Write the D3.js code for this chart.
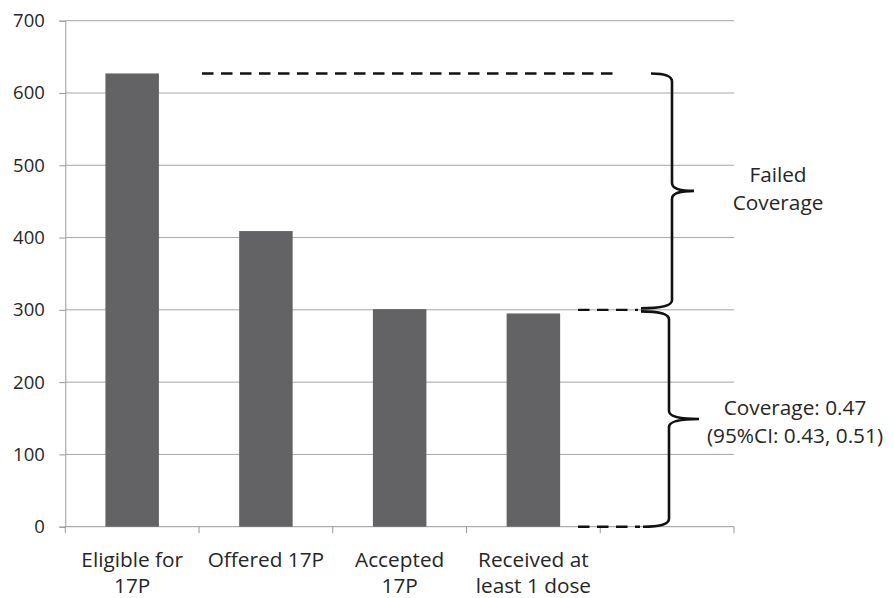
<!DOCTYPE html>
<html>
<head>
<meta charset="utf-8">
<script src="https://cdn.jsdelivr.net/npm/d3@7/dist/d3.min.js"></script>
<style>
  html, body { margin: 0; padding: 0; background: #fff; }
  svg text { font-family: "Open Sans", sans-serif; fill: #262626; }
</style>
</head>
<body>
<svg id="chart" width="894" height="598"></svg>
<script>
// 17P cascade: counts of women at each step
const categories = [
  ["Eligible for", "17P"],
  ["Offered 17P"],
  ["Accepted", "17P"],
  ["Received at", "least 1 dose"]
];
const counts = [627, 409, 301, 295];
const yTicks = [0, 100, 200, 300, 400, 500, 600, 700];

// Bracket annotation levels and texts
const eligibleLevel = 627;
const coverageLevel = 300;
const failedLabel = ["Failed", "Coverage"];
const coverageLabel = ["Coverage: 0.47", "(95%CI: 0.43, 0.51)"];

const W = 894, H = 598;
const margin = { top: 20.7, right: 160, bottom: 71.3, left: 65.3 };
const iw = W - margin.left - margin.right;
const ih = H - margin.top - margin.bottom;

const svg = d3.select("#chart");
const g = svg.append("g").attr("transform", `translate(${margin.left},${margin.top})`);

const keys = categories.map((c, i) => "c" + i).concat(["blank"]);
const x = d3.scaleBand().domain(keys).range([0, iw]).paddingInner(0.6).paddingOuter(0.3);
const y = d3.scaleLinear().domain([0, 700]).range([ih, 0]);

const tickFs = 18.5;   // axis numbers
const fs = 20.8;       // category and annotation text

// Gridlines
g.append("g")
  .selectAll("line")
  .data(yTicks.filter(t => t > 0))
  .join("line")
  .attr("x1", 0).attr("x2", iw)
  .attr("y1", d => y(d)).attr("y2", d => y(d))
  .attr("stroke", "#a6a6a6").attr("stroke-width", 1);

// Y axis
const yAxis = g.append("g").call(d3.axisLeft(y).tickValues(yTicks).tickSize(6).tickPadding(14.5));
yAxis.select(".domain").attr("stroke", "#999");
yAxis.selectAll(".tick line").attr("stroke", "#999");
yAxis.selectAll(".tick text").style("font-size", tickFs + "px").attr("fill", "#262626");

// X axis baseline and slot ticks
g.append("line").attr("x1", 0).attr("x2", iw).attr("y1", ih).attr("y2", ih)
  .attr("stroke", "#999");
g.append("g").selectAll("line")
  .data(d3.range(keys.length + 1))
  .join("line")
  .attr("x1", i => i * x.step()).attr("x2", i => i * x.step())
  .attr("y1", ih).attr("y2", ih + 6.5)
  .attr("stroke", "#999");

// Bars
g.append("g").selectAll("rect")
  .data(counts)
  .join("rect")
  .attr("x", (d, i) => x(keys[i]))
  .attr("width", x.bandwidth())
  .attr("y", d => y(d))
  .attr("height", d => y(0) - y(d))
  .attr("fill", "#636365");

// Category labels
const labels = g.append("g").selectAll("text")
  .data(categories)
  .join("text")
  .attr("text-anchor", "middle")
  .attr("x", (d, i) => x(keys[i]) + x.bandwidth() / 2)
  .attr("y", ih + 40)
  .style("font-size", fs + "px");
labels.selectAll("tspan")
  .data(d => d)
  .join("tspan")
  .attr("x", function () { return this.parentNode.getAttribute("x"); })
  .attr("dy", (d, i) => i === 0 ? 0 : 26.5)
  .text(d => d);

// Dashed reference lines
const dash = "11.5,7.5";
const ann = g.append("g").attr("fill", "none").attr("stroke", "#111").attr("stroke-width", 2.4);
ann.append("line")
  .attr("x1", 202 - margin.left).attr("x2", 613 - margin.left)
  .attr("y1", y(eligibleLevel)).attr("y2", y(eligibleLevel))
  .attr("stroke-dasharray", dash);
ann.append("line")
  .attr("x1", 578 - margin.left).attr("x2", 638 - margin.left)
  .attr("y1", y(coverageLevel)).attr("y2", y(coverageLevel))
  .attr("stroke-dasharray", dash);
ann.append("line")
  .attr("x1", 578 - margin.left).attr("x2", 640 - margin.left)
  .attr("y1", y(0)).attr("y2", y(0))
  .attr("stroke-dasharray", dash);

// Curly brace opening to the left, tip pointing right
function brace(xs0, xs1, xv, xtip, y0, y1) {
  const ym = (y0 + y1) / 2;
  const r = 8;
  return `M${xs0},${y0} Q${xv},${y0} ${xv},${y0 + r} L${xv},${ym - r} ` +
    `Q${xv},${ym} ${xtip},${ym} Q${xv},${ym} ${xv},${ym + r} ` +
    `L${xv},${y1 - r} Q${xv},${y1} ${xs1},${y1}`;
}
const ox = margin.left;
ann.append("path")
  .attr("d", brace(651 - ox, 641 - ox, 672 - ox, 694 - ox, y(eligibleLevel), y(coverageLevel) - 1.5))
  .attr("stroke-width", 2.6);
ann.append("path")
  .attr("d", brace(641 - ox, 643 - ox, 669 - ox, 699 - ox, y(coverageLevel) + 1.5, y(0)))
  .attr("stroke-width", 2.6);

// Bracket labels
function block(lines, cx, by) {
  const t = g.append("text").attr("text-anchor", "middle").style("font-size", fs + "px");
  lines.forEach((s, i) => {
    t.append("tspan").attr("x", cx - ox).attr("y", by - margin.top + i * 28.3).text(s);
  });
}
block(failedLabel, 778, 182);
block(coverageLabel, 795, 415);
</script>
</body>
</html>
